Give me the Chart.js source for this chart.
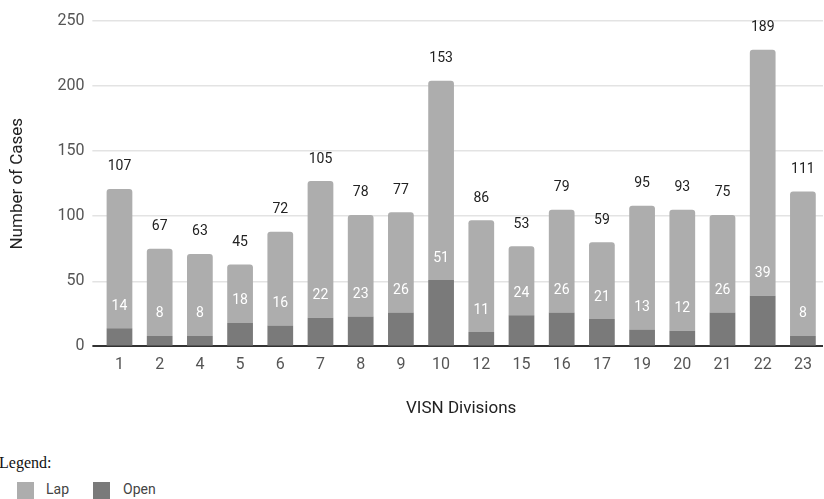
<!DOCTYPE html>
<html>
<head>
<meta charset="utf-8">
<script src="https://cdn.jsdelivr.net/npm/chart.js@4"></script>
<style>
  body { margin: 0; background: #fff; width: 824px; height: 499px; overflow: hidden; position: relative; }
  #wrap { position: absolute; left: 0; top: 0; width: 824px; height: 425px; }
  #legendTitle { position: absolute; left: -1px; top: 454px; font: 16px "Liberation Serif", serif; color: #111; }
  .item { position: absolute; top: 482px; font: 14px Roboto, sans-serif; color: #444; }
  .box { position: absolute; top: 482px; width: 17px; height: 17px; }
</style>
</head>
<body>
<div id="wrap"><canvas id="chart"></canvas></div>
<div id="legendTitle">Legend:</div>
<div class="box" style="left:17px;background:#adadad"></div>
<div class="item" style="left:46px;top:481px">Lap</div>
<div class="box" style="left:93px;background:#7a7a7a"></div>
<div class="item" style="left:123px;top:481px">Open</div>
<script>
// VISN divisions and case counts
const divisions = ['1', '2', '4', '5', '6', '7', '8', '9', '10', '12', '15', '16', '17', '19', '20', '21', '22', '23'];
const lapCases = [107, 67, 63, 45, 72, 105, 78, 77, 153, 86, 53, 79, 59, 95, 93, 75, 189, 111];
const openCases = [14, 8, 8, 18, 16, 22, 23, 26, 51, 11, 24, 26, 21, 13, 12, 26, 39, 8];
const yTicks = [0, 50, 100, 150, 200, 250];

// draws the numbers above each segment
const valueLabels = {
    id: 'valueLabels',
    afterDatasetsDraw(chart) {
        const ctx = chart.ctx;
        const openMeta = chart.getDatasetMeta(0);
        const lapMeta = chart.getDatasetMeta(1);
        ctx.save();
        ctx.textAlign = 'center';
        ctx.textBaseline = 'middle';
        ctx.font = '14px Roboto';
        openMeta.data.forEach((bar, i) => {
            ctx.fillStyle = '#ffffff';
            ctx.fillText(openCases[i], bar.x, bar.y - 22);
        });
        lapMeta.data.forEach((bar, i) => {
            ctx.fillStyle = '#222222';
            ctx.fillText(lapCases[i], bar.x, bar.y - 22);
        });
        ctx.restore();
    }
};

new Chart(document.getElementById('chart'), {
    type: 'bar',
    data: {
        labels: divisions,
        datasets: [
            {
                label: 'Open',
                data: openCases,
                backgroundColor: '#7a7a7a',
                borderRadius: 0,
                borderSkipped: false
            },
            {
                label: 'Lap',
                data: lapCases,
                backgroundColor: '#adadad',
                borderRadius: { topLeft: 3, topRight: 3, bottomLeft: 0, bottomRight: 0 },
                borderSkipped: false
            }
        ]
    },
    options: {
        responsive: true,
        maintainAspectRatio: false,
        animation: false,
        datasets: { bar: { categoryPercentage: 0.64, barPercentage: 1 } },
        layout: { padding: { top: 21, right: 1, bottom: 6, left: 8 } },
        plugins: {
            legend: { display: false },
            tooltip: { enabled: false }
        },
        scales: {
            x: {
                stacked: true,
                grid: { display: false },
                border: { display: false },
                ticks: { color: '#555', font: { family: 'Roboto', size: 16 }, padding: 1 },
                title: {
                    display: true,
                    text: 'VISN Divisions',
                    color: '#222',
                    font: { family: 'Roboto', size: 17 },
                    padding: { top: 23, bottom: 0 }
                }
            },
            y: {
                stacked: true,
                min: 0,
                max: 250,
                afterBuildTicks: axis => { axis.ticks = yTicks.map(v => ({ value: v })); },
                grid: {
                    color: c => c.tick && c.tick.value === 0 ? '#333' : '#e3e3e3',
                    lineWidth: c => c.tick && c.tick.value === 0 ? 2 : 1.5,
                    tickLength: 7
                },
                border: { display: false },
                ticks: { color: '#555', font: { family: 'Roboto', size: 16 }, padding: 8 },
                title: {
                    display: true,
                    text: 'Number of Cases',
                    color: '#222',
                    font: { family: 'Roboto', size: 17 },
                    padding: { top: 0, bottom: 21 }
                }
            }
        }
    },
    plugins: [valueLabels]
});
</script>
</body>
</html>
